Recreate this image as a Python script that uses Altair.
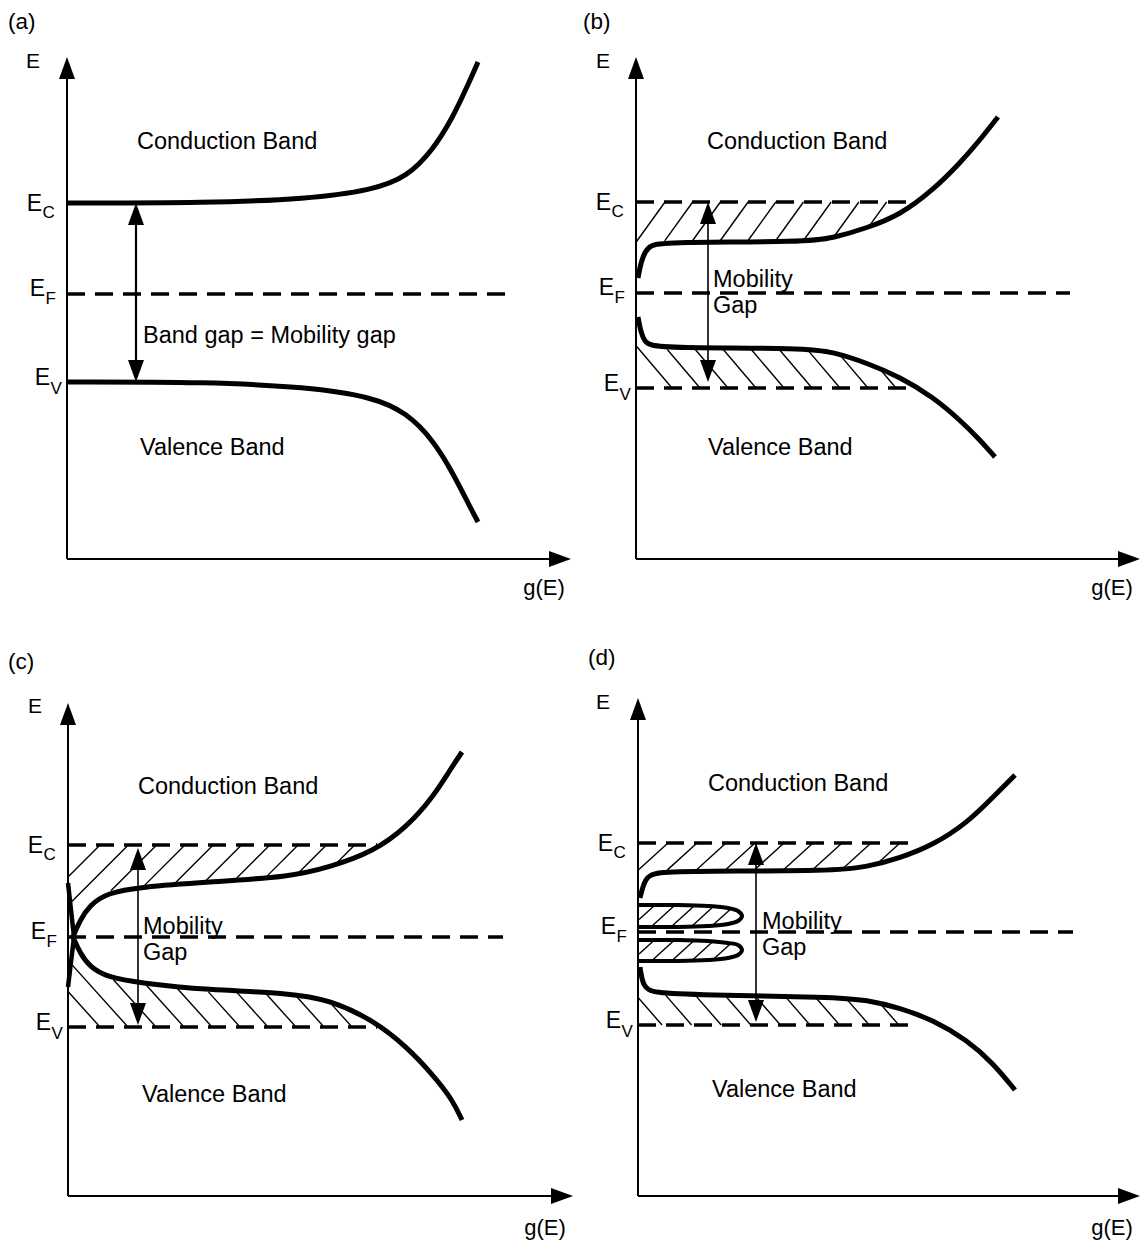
import altair as alt
import numpy as np
import pandas as pd

W, H = 1144, 1243
FONT = "Liberation Sans"

# ---------------- data (each panel in its own g(E) / E units, origin = axes corner) -------------
PANEL_LABELS = ["(a)", "(b)", "(c)", "(d)"]
ORIGIN_X = [67, 636, 68, 638]
ORIGIN_Y = [559, 559, 1196, 1196]
AXIS_TOP = [502, 502, 493, 498]
AXIS_RIGHT = [504, 504, 505, 502]

LEVEL_C = [356, 357, 351, 353]
LEVEL_F = [265, 266, 259, 264]
LEVEL_V = [177, 171, 169, 171]
FERMI_END = [443, 434, 435, 435]
EDGE_END = [0, 279, 309, 277]

CB_G = [
    [0, 140, 240, 306, 340, 366, 386, 400, 411],
    [2, 5, 9, 14, 31, 171, 197, 231, 264, 297, 324, 344, 362],
    [5, 12, 22, 39, 72, 139, 222, 262, 305, 339, 365, 382, 394],
    [2, 7, 17, 62, 195, 229, 262, 295, 329, 355, 377],
]
CB_E = [
    [356, 356, 360, 369, 382, 409, 442, 472, 497],
    [281, 297, 307, 314, 317, 317, 321, 331, 344, 369, 396, 419, 442],
    [259, 276, 291, 303, 309, 314, 319, 329, 344, 369, 399, 426, 444],
    [298, 318, 324, 325, 325, 329, 338, 351, 373, 399, 421],
]
VB_G = [
    [0, 140, 240, 306, 340, 366, 386, 403, 411],
    [2, 5, 9, 14, 31, 171, 197, 231, 264, 297, 324, 344, 359],
    [5, 12, 22, 39, 72, 139, 222, 262, 305, 339, 365, 384, 394],
    [2, 5, 15, 62, 195, 229, 262, 295, 329, 355, 377],
]
VB_E = [
    [177, 177, 172, 162, 146, 119, 86, 52, 37],
    [242, 226, 217, 214, 211, 211, 207, 196, 182, 162, 139, 119, 102],
    [259, 243, 229, 219, 213, 206, 203, 196, 176, 149, 121, 97, 76],
    [229, 209, 203, 201, 199, 196, 188, 176, 156, 133, 106],
]

# panel (c): band-tail states meeting at the Fermi level
TAIL_G = [0, 6, 0]
TAIL_E = [313, 259, 209]

# panel (d): two defect-state lobes around E_F
LOBE_G = [1, 40, 70, 90, 100, 104]
LOBE1_TOP = [291, 291, 290, 288, 285, 280]
LOBE1_BOT = [269, 269, 270, 272, 275, 280]
LOBE2_TOP = [256, 256, 255, 253, 251, 246]
LOBE2_BOT = [235, 235, 236, 238, 241, 246]

# mobility-gap arrows
GAP_G = [69, 72, 70, 118]
GAP_LO = [177, 177, 171, 174]
GAP_HI = [356, 357, 348, 353]

CB_TEXT = "Conduction Band"
VB_TEXT = "Valence Band"
GAP_TEXT_A = "Band gap = Mobility gap"
GAP_TEXT = ["Mobility", "Gap"]

# ---------------- layout of annotations ----------------
CB_AT = [(70, 417), (71, 417), (70, 409), (70, 412)]
VB_AT = [(73, 111), (72, 111), (74, 101), (74, 106)]
GAP_TEXT_AT = [(76, 223), (77, 279), (75, 269), (124, 274)]
PANEL_AT = [(-59, 537), (-53, 537), (-60, 534), (-50, 538)]
E_AXIS_AT = [(-34, 497), (-33, 497), (-33, 489), (-35, 493)]
G_AXIS_AT = [(477, -29), (476, -29), (477, -32), (474, -32)]

HATCH = {
    1: dict(up=(29, 27.7, 0.72), lo=(36, 28.0, 0.85)),
    2: dict(up=(32, 28.3, 1.0), lo=(32, 28.0, 0.9)),
    3: dict(up=(30, 29.0, 1.1), lo=(24, 29.6, 0.87)),
}


def page(p, g, e):
    return ORIGIN_X[p] + np.asarray(g, float), ORIGIN_Y[p] - np.asarray(e, float)


axis_rows, dash_rows, hatch_rows, gap_rows = [], [], [], []
head_rows, curve_rows, tail_rows, lobe_rows = [], [], [], []
text_left, text_right, text_center = [], [], []


def seg(store, p, g1, e1, g2, e2, **kw):
    x1, y1 = page(p, g1, e1)
    x2, y2 = page(p, g2, e2)
    d = dict(x=float(x1), y=float(y1), x2=float(x2), y2=float(y2))
    d.update(kw)
    store.append(d)


def head(p, g, e, ang):
    x, y = page(p, g, e)
    head_rows.append(dict(x=float(x), y=float(y), ang=ang))


def longest_run(mask):
    best, start = None, None
    for i, v in enumerate(list(mask) + [False]):
        if v and start is None:
            start = i
        elif not v and start is not None:
            if best is None or (i - 1 - start) > (best[1] - best[0]):
                best = (start, i - 1)
            start = None
    return best


def hatch_lines(p, starts, e0, dg, de, inside, t, need_start=True):
    for g0 in starts:
        g = g0 + dg * t
        e = e0 + de * t
        m = inside(g, e)
        if need_start and not m[0]:
            continue
        run = longest_run(m)
        if run is None:
            continue
        i, j = run
        if np.hypot(g[j] - g[i], e[j] - e[i]) < 6:
            continue
        seg(hatch_rows, p, g[i], e[i], g[j], e[j])


for p in range(4):
    # axes
    seg(axis_rows, p, 0, 0, 0, AXIS_TOP[p] - 10)
    seg(axis_rows, p, 0, 0, AXIS_RIGHT[p] - 10, 0)
    head(p, 0, AXIS_TOP[p], 0)
    head(p, AXIS_RIGHT[p], 0, 90)
    # dashed levels
    seg(dash_rows, p, 0, LEVEL_F[p], FERMI_END[p], LEVEL_F[p])
    if EDGE_END[p] > 0:
        seg(dash_rows, p, 0, LEVEL_C[p], EDGE_END[p], LEVEL_C[p])
        seg(dash_rows, p, 0, LEVEL_V[p], EDGE_END[p], LEVEL_V[p])
    # gap arrow
    seg(gap_rows, p, GAP_G[p], GAP_LO[p] + 12, GAP_G[p], GAP_HI[p] - 12, w=2.2 if p == 0 else 1.6)
    head(p, GAP_G[p], GAP_HI[p], 0)
    head(p, GAP_G[p], GAP_LO[p], 180)
    # curves
    for name, gs, es in (("cb", CB_G[p], CB_E[p]), ("vb", VB_G[p], VB_E[p])):
        xs, ys = page(p, gs, es)
        for k, (x, y) in enumerate(zip(xs, ys)):
            curve_rows.append(dict(s=f"{name}{p}", o=k, x=float(x), y=float(y)))
    # hatching
    if p in HATCH:
        cg, ce, vg, ve = np.array(CB_G[p]), np.array(CB_E[p]), np.array(VB_G[p]), np.array(VB_E[p])
        ec, ev = LEVEL_C[p], LEVEL_V[p]
        t = np.linspace(0, 160, 1281)
        o, sp, sl = HATCH[p]["up"]
        starts = o + sp * np.arange(12)
        starts = starts[starts <= EDGE_END[p]]
        hatch_lines(p, starts, ec, -sl, -1.0,
                    lambda g, e, cg=cg, ce=ce, ec=ec: (g >= 0) & (e <= ec + 0.01) & (e >= np.interp(g, cg, ce) + 1.5), t)
        o, sp, sl = HATCH[p]["lo"]
        starts = o + sp * np.arange(12)
        starts = starts[starts <= EDGE_END[p]]
        hatch_lines(p, starts, ev, -sl, 1.0,
                    lambda g, e, vg=vg, ve=ve, ev=ev: (g >= 0) & (e >= ev - 0.01) & (e <= np.interp(g, vg, ve) - 1.5), t)

# (c) tail
xs, ys = page(2, TAIL_G, TAIL_E)
for k, (x, y) in enumerate(zip(xs, ys)):
    tail_rows.append(dict(s="tail", o=k, x=float(x), y=float(y)))

# (d) lobes
lg = np.array(LOBE_G, float)
for li, (top, bot) in enumerate(((LOBE1_TOP, LOBE1_BOT), (LOBE2_TOP, LOBE2_BOT))):
    og = list(LOBE_G) + list(LOBE_G[-2::-1])
    oe = list(top) + list(bot[-2::-1])
    xs, ys = page(3, og, oe)
    for k, (x, y) in enumerate(zip(xs, ys)):
        lobe_rows.append(dict(s=f"lobe{li}", o=k, x=float(x), y=float(y)))
    top_a, bot_a = np.array(top, float), np.array(bot, float)
    mid = (top_a[0] + bot_a[0]) / 2
    t = np.linspace(-40, 40, 801)
    hatch_lines(3, 5 + 20 * np.arange(6), mid, 1.1, 1.0,
                lambda g, e, ta=top_a, ba=bot_a: (g >= 1) & (g <= lg[-1]) & (e <= np.interp(g, lg, ta) - 0.8)
                & (e >= np.interp(g, lg, ba) + 0.8), t, need_start=False)

# texts
def txt(store, p, g, e, s, size):
    x, y = page(p, g, e)
    store.append(dict(x=float(x), y=float(y), t=s, size=size))


for p in range(4):
    txt(text_left, p, *PANEL_AT[p], PANEL_LABELS[p], 22.5)
    txt(text_center, p, *E_AXIS_AT[p], "E", 21)
    txt(text_center, p, *G_AXIS_AT[p], "g(E)", 22)
    txt(text_left, p, *CB_AT[p], CB_TEXT, 23.5)
    txt(text_left, p, *VB_AT[p], VB_TEXT, 23.5)
    gx, ge = GAP_TEXT_AT[p]
    if p == 0:
        txt(text_left, p, gx, ge, GAP_TEXT_A, 23.5)
    else:
        txt(text_left, p, gx, ge, GAP_TEXT[0], 23.5)
        txt(text_left, p, gx, ge - 26, GAP_TEXT[1], 23.5)
    for lvl, sub, dx, de, ds in ((LEVEL_C[p], "C", -25, -1, -10),
                                 (LEVEL_F[p], "F", -22, 5, -5),
                                 (LEVEL_V[p], "V", -17, 4, -7)):
        txt(text_right, p, dx, lvl + de, "E", 23)
        txt(text_left, p, dx + 0.5, lvl + ds, sub, 17)

# ---------------- chart ----------------
xs_ = alt.Scale(domain=[0, W], range=[0, W], nice=False, zero=False)
ys_ = alt.Scale(domain=[0, H], range=[0, H], nice=False, zero=False)


def X(f="x"):
    return alt.X(f, type="quantitative", scale=xs_, axis=None)


def Y(f="y"):
    return alt.Y(f, type="quantitative", scale=ys_, axis=None)


def rules(rows, **mk):
    return alt.Chart(pd.DataFrame(rows)).mark_rule(color="black", **mk).encode(
        x=X(), y=Y(), x2="x2:Q", y2="y2:Q")


axes_l = rules(axis_rows, strokeWidth=2)
dash_l = rules(dash_rows, strokeWidth=3.5, strokeDash=[18, 10])
hatch_l = rules(hatch_rows, strokeWidth=1.4)
gap_l = alt.Chart(pd.DataFrame(gap_rows)).mark_rule(color="black").encode(
    x=X(), y=Y(), x2="x2:Q", y2="y2:Q", strokeWidth=alt.StrokeWidth("w:Q", scale=None))

curve_l = alt.Chart(pd.DataFrame(curve_rows)).mark_line(
    color="black", strokeWidth=5, interpolate="basis").encode(
    x=X(), y=Y(), detail="s:N", order="o:Q")
tail_l = alt.Chart(pd.DataFrame(tail_rows)).mark_line(
    color="black", strokeWidth=4.5).encode(x=X(), y=Y(), detail="s:N", order="o:Q")
lobe_l = alt.Chart(pd.DataFrame(lobe_rows)).mark_line(
    color="black", strokeWidth=4, interpolate="catmull-rom").encode(
    x=X(), y=Y(), detail="s:N", order="o:Q")

ARROW = "M0,0L0.727,2L-0.727,2Z"
head_l = alt.Chart(pd.DataFrame(head_rows)).mark_point(
    shape=ARROW, size=484, filled=True, color="black", opacity=1, strokeWidth=0).encode(
    x=X(), y=Y(), angle=alt.Angle("ang:Q", scale=None))


def texts(rows, align):
    return alt.Chart(pd.DataFrame(rows)).mark_text(
        align=align, baseline="middle", font=FONT, color="black").encode(
        x=X(), y=Y(), text="t:N", size=alt.Size("size:Q", scale=None))


chart = alt.layer(
    hatch_l, dash_l, axes_l, gap_l, curve_l, tail_l, lobe_l, head_l,
    texts(text_left, "left"), texts(text_right, "right"), texts(text_center, "center"),
).properties(
    width=W, height=H, padding=0, background="white",
    autosize=alt.AutoSizeParams(type="none"),
).configure_view(strokeWidth=0)

chart.save("out.html", embed_options={"renderer": "svg", "actions": False})
